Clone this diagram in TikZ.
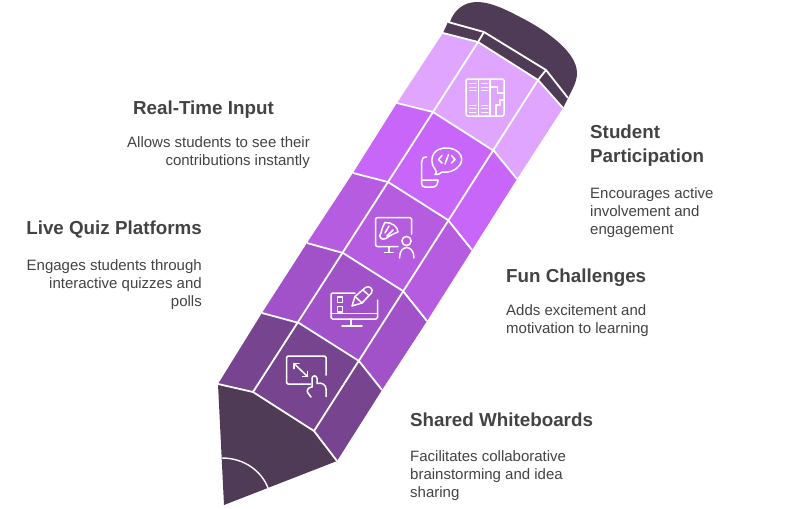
\documentclass[tikz,border=0pt]{standalone}
\usepackage{fontspec}
\setmainfont{Liberation Sans}
\definecolor{bandA}{HTML}{E0A6FF}
\definecolor{bandB}{HTML}{C966FA}
\definecolor{bandC}{HTML}{B55CE1}
\definecolor{bandD}{HTML}{A152C8}
\definecolor{bandE}{HTML}{77458F}
\definecolor{capdark}{HTML}{4F3B55}
\definecolor{inktext}{HTML}{434343}
\tikzset{
  headtext/.style={inner sep=0pt,text=inktext,font=\fontsize{18.8}{24}\selectfont\bfseries},
  bodytext/.style={inner sep=0pt,text=inktext,font=\fontsize{15}{18}\selectfont},
  seam/.style={white,line width=1.8pt,line join=round},
  icon/.style={white,line width=1.5pt,line join=round,line cap=round}
}
\begin{document}
\begin{tikzpicture}[x=1pt,y=-1pt]
\useasboundingbox (0,0) rectangle (804,509);
\coordinate (l0) at (443,33);
\coordinate (l1) at (397,103);
\coordinate (l2) at (353,173);
\coordinate (l3) at (307,243);
\coordinate (l4) at (262,313);
\coordinate (l5) at (218,384);
\coordinate (m0) at (478,42);
\coordinate (m1) at (433,112);
\coordinate (m2) at (388,182);
\coordinate (m3) at (343,253);
\coordinate (m4) at (299,323);
\coordinate (m5) at (253,392);
\coordinate (n0) at (538,80);
\coordinate (n1) at (494,151);
\coordinate (n2) at (448,220);
\coordinate (n3) at (403,291);
\coordinate (n4) at (359,361);
\coordinate (n5) at (314,431);
\coordinate (r0) at (563,108);
\coordinate (r1) at (517,179);
\coordinate (r2) at (472,250);
\coordinate (r3) at (427,321);
\coordinate (r4) at (382,390);
\coordinate (r5) at (337,461);
\coordinate (tip) at (224,505);
\coordinate (capa) at (448,22);
\coordinate (capb) at (484,32);
\coordinate (capc) at (546,70);
\coordinate (capd) at (568,98);
% bands
\foreach \a/\b/\col in {0/1/bandA,1/2/bandB,2/3/bandC,3/4/bandD,4/5/bandE}
  \fill[\col] (l\a)--(m\a)--(n\a)--(r\a)--(r\b)--(n\b)--(m\b)--(l\b)--cycle;
% eraser and tip
\fill[capdark] (l0)--(capa)--(450,22) .. controls (454,10) and (464,2) .. (477,2)
  .. controls (490,2) and (505,9) .. (520,17) .. controls (540,27) and (577,50) .. (577,73)
  .. controls (577,82) and (572,90) .. (capd)--(r0)--(n0)--(m0)--cycle;
\fill[capdark] (l5)--(m5)--(n5)--(r5)--(tip)--cycle;
% seams
\foreach \a in {0,...,5}
  \draw[seam] (l\a)--(m\a)--(n\a)--(r\a);
\draw[seam] (m0)--(m5);
\draw[seam] (n0)--(n5);
\draw[seam] (capa)--(capb)--(capc)--(capd);
\draw[seam] (capb)--(m0);
\draw[seam] (capc)--(n0);
\draw[seam,line width=1.4pt] (222,458) .. controls (245,458) and (262,472) .. (268,488);
% books
\draw[icon,rounded corners=1.5pt] (466,79) rectangle (504,116);
\draw[icon] (478.5,79)--(478.5,116) (490,79)--(490,116);
\foreach \y in {83.5,87,90.5,105,108.5,112}
  \draw[icon,line width=1pt] (469.5,\y)--(476,\y) (481.5,\y)--(488,\y);
\draw[icon] (490,87)--(497.5,87)--(497.5,93)--(504,93);
\draw[icon] (496,116)--(496,105)--(500,105)--(500,100)--(504,100);
% bubble and phone
\draw[icon] (435,169) .. controls (429,162) and (431,148) .. (446,148)
  .. controls (461,148) and (465,160) .. (459,166) .. controls (455,171) and (448,173) .. (442,172)
  .. controls (440,174) and (438,175) .. (435,174.5) .. controls (437,173) and (437,171) .. (435,169);
\draw[icon] (442,155.5)--(438.5,159.5)--(442,163) (451.5,155.5)--(455,159.5)--(451.5,163) (448.5,154.5)--(445,164);
\draw[icon] (426.5,157) .. controls (423,157) and (421.7,159) .. (421.7,162)--(421.7,184)
  .. controls (421.7,186) and (423,187) .. (425,187)--(433,187) .. controls (436,187) and (438,184) .. (438,180)--(421.7,180);
% screen and shuttlecock
\draw[icon,rounded corners=1.5pt] (411.5,234)--(411.5,217.5)--(375.5,217.5)--(375.5,246.5)--(398,246.5);
\draw[icon] (389,247)--(389,252) (384.5,252.5)--(393,252.5);
\draw[icon] (381,233) .. controls (382,228) and (384,224) .. (385,222.5)
  .. controls (392,222) and (398,227) .. (398,232) .. controls (393,234) and (389,236) .. (386,238.5);
\draw[icon] (381,233) .. controls (378,236) and (381,241) .. (386,238.5);
\draw[icon] (389,226)--(385,233) (393,230)--(387,236);
\draw[icon] (406.5,241) circle (4.6);
\draw[icon] (399.5,258) .. controls (399.5,244) and (414,244) .. (414,258);
% monitor and pencil
\draw[icon,rounded corners=1.5pt] (355,293)--(331,293)--(331,319)--(377.5,319)--(377.5,300);
\draw[icon] (331,313.5)--(377.5,313.5);
\draw[icon] (351,319)--(351,325) (342,326)--(362,326);
\draw[icon,line width=1.2pt] (337.5,297) rectangle (342.5,302.5) (337.5,306.5) rectangle (342.5,312);
\draw[icon] (352,306)--(355,296.5)--(365.5,287.5) .. controls (369,285) and (374,289) .. (371.5,293)--(362,303)--cycle;
\draw[icon] (363,290)--(369,295.5) (355,296.5)--(362,303);
% touch screen
\draw[icon,rounded corners=1.5pt] (326,375)--(326,356)--(286.5,356)--(286.5,384)--(310.5,384);
\draw[icon] (294,363.5)--(307.5,376.5);
\draw[icon] (294,368.5)--(294,363.5)--(299,363.5) (307.5,371.5)--(307.5,376.5)--(302.5,376.5);
\draw[icon] (312,387)--(312,378.5) .. controls (312,375) and (317,375) .. (317,378.5)--(317,383.5)
  .. controls (322,382) and (326,385) .. (326,389)--(326,396.5);
\draw[icon] (312,387) .. controls (308,387) and (306,391) .. (308,393)--(311,397);
% texts
\node[headtext,anchor=base east] (realtitle) at (274,114) {Real-Time Input};
\node[bodytext,anchor=north east,align=right] (realtext) at (310,136.5) {Allows students to see their\\contributions instantly};
\node[headtext,anchor=base east] (quiztitle) at (202,234) {Live Quiz Platforms};
\node[bodytext,anchor=north east,align=right] (quiztext) at (202,259.5) {Engages students through\\interactive quizzes and\\polls};
\node[headtext,anchor=north west,align=left] (parttitle) at (590,125) {Student\\Participation};
\node[bodytext,anchor=north west,align=left] (parttext) at (590,187.5) {Encourages active\\involvement and\\engagement};
\node[headtext,anchor=base west] (funtitle) at (506,282) {Fun Challenges};
\node[bodytext,anchor=north west,align=left] (funtext) at (506,304.5) {Adds excitement and\\motivation to learning};
\node[headtext,anchor=base west] (boardtitle) at (410,426) {Shared Whiteboards};
\node[bodytext,anchor=north west,align=left] (boardtext) at (410,450.5) {Facilitates collaborative\\brainstorming and idea\\sharing};
\end{tikzpicture}
\end{document}
